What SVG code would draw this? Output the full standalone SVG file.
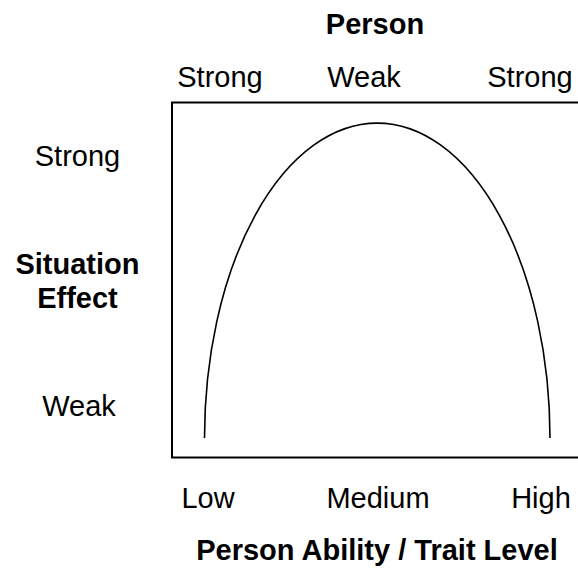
<svg xmlns="http://www.w3.org/2000/svg" width="578" height="569" viewBox="0 0 578 569">
<style>
text{font-family:"Liberation Sans",Arial,sans-serif;font-size:29px;fill:#000;text-anchor:middle}
.b{font-weight:bold}
.line{fill:none;stroke:#000}
</style>
<rect width="578" height="569" fill="#fff"/>
<g id="frame"><rect class="line" x="172" y="102.5" width="410" height="355" stroke-width="2"/></g>
<g id="curve"><path class="line" d="M 204.5 438 A 172.75 315 0 0 1 550 438" stroke-width="1.6"/></g>
<g id="labels">
<text class="b" x="375" y="34">Person</text>
<text x="220" y="87">Strong</text>
<text x="364" y="87">Weak</text>
<text x="530" y="87">Strong</text>
<text x="77.5" y="166">Strong</text>
<text class="b" x="77.5" y="274">Situation</text>
<text class="b" x="77.5" y="308">Effect</text>
<text x="79" y="416">Weak</text>
<text x="208" y="508">Low</text>
<text x="378" y="508">Medium</text>
<text x="541" y="508">High</text>
<text class="b" x="377" y="560">Person Ability / Trait Level</text>
</g>
</svg>
